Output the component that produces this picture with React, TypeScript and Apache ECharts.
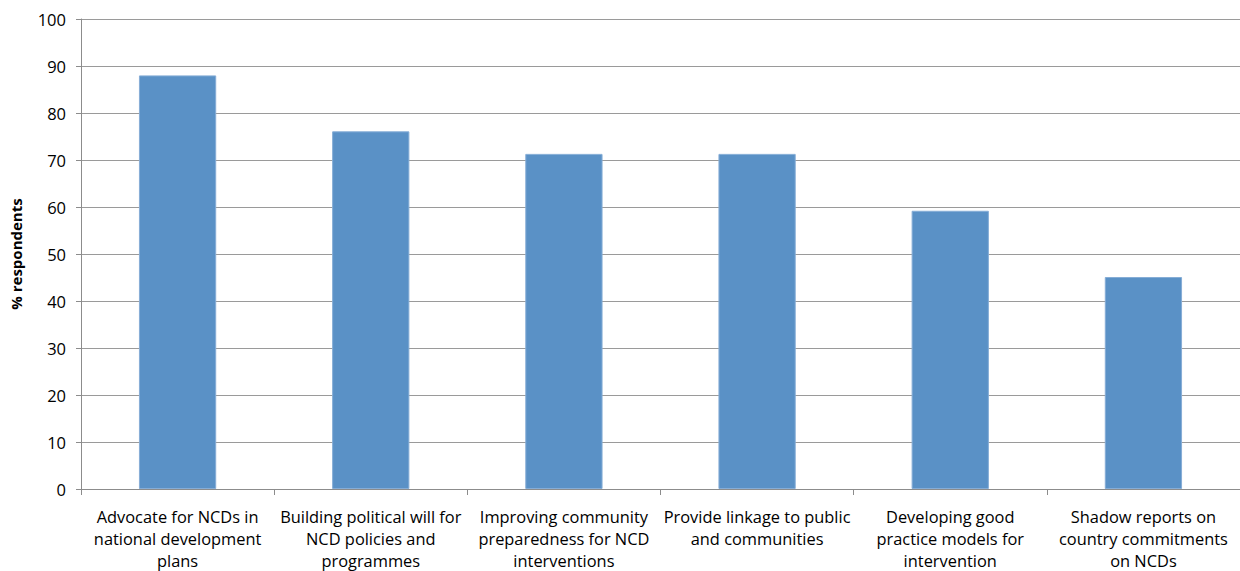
import React, { useEffect, useRef } from "react";
import * as echarts from "echarts";

const categories = [
  "Advocate for NCDs in\nnational development\nplans",
  "Building political will for\nNCD policies and\nprogrammes",
  "Improving community\npreparedness for NCD\ninterventions",
  "Provide linkage to public\nand communities",
  "Developing good\npractice models for\nintervention",
  "Shadow reports on\ncountry commitments\non NCDs",
];
const values = [88.0, 76.1, 71.3, 71.3, 59.2, 45.1];
const yAxisName = "% respondents";

export default function App() {
  const ref = useRef<HTMLDivElement>(null);
  useEffect(() => {
    if (!ref.current) return;
    const chart = echarts.init(ref.current, null, { renderer: "svg" });
    chart.setOption({
      animation: false,
      backgroundColor: "#ffffff",
      textStyle: { fontFamily: "Open Sans" },
      grid: { left: 81, right: 0, top: 19, bottom: 79 },
      xAxis: {
        type: "category",
        data: categories,
        axisLine: { show: true, lineStyle: { color: "#8c8c8c", width: 1 } },
        axisTick: { show: true, length: 6, lineStyle: { color: "#8c8c8c" } },
        axisLabel: {
          interval: 0,
          color: "#000",
          fontSize: 16.4,
          lineHeight: 22,
          margin: 16,
          fontFamily: "Open Sans",
        },
      },
      yAxis: {
        type: "value",
        min: 0,
        max: 100,
        interval: 10,
        name: yAxisName,
        nameLocation: "middle",
        nameGap: 58,
        nameTextStyle: { color: "#000", fontSize: 15, fontWeight: "bold", fontFamily: "Open Sans" },
        axisLine: { show: true, lineStyle: { color: "#8c8c8c", width: 1 } },
        axisTick: { show: true, length: 5, lineStyle: { color: "#8c8c8c" } },
        axisLabel: { color: "#000", fontSize: 16.5, margin: 15, fontFamily: "Open Sans" },
        splitLine: { show: true, lineStyle: { color: "#9a9a9a", width: 1 } },
      },
      series: [
        {
          type: "bar",
          data: values,
          barWidth: "40%",
          itemStyle: { color: "#5A91C6", borderColor: "#86ADD6", borderWidth: 1 },
        },
      ],
    });
    return () => chart.dispose();
  }, []);
  return (
    <div
      ref={ref}
      style={{ position: "absolute", left: 0, top: 0, width: 1240, height: 571 }}
    />
  );
}
